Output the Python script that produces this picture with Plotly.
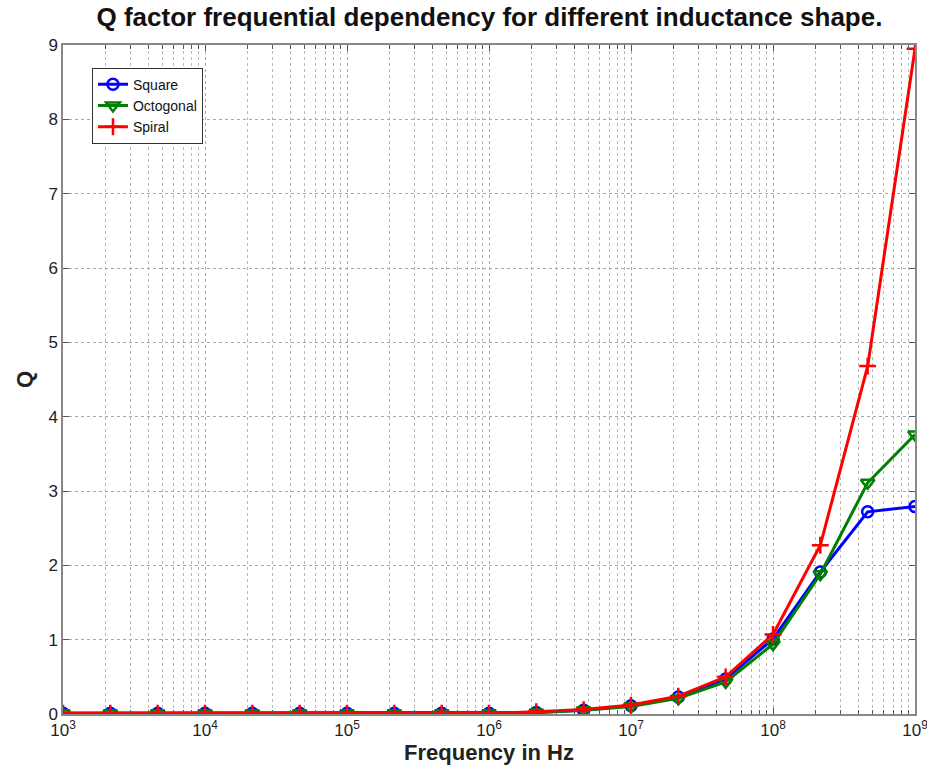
import plotly.graph_objects as go

freq = [1e3, 2.154e3, 4.642e3, 1e4, 2.154e4, 4.642e4, 1e5, 2.154e5, 4.642e5,
        1e6, 2.154e6, 4.642e6, 1e7, 2.154e7, 4.642e7, 1e8, 2.154e8, 4.642e8, 1e9]
q_square = [0.01, 0.01, 0.01, 0.01, 0.01, 0.01, 0.01, 0.01, 0.01,
            0.01, 0.02, 0.05, 0.11, 0.23, 0.47, 1.01, 1.91, 2.72, 2.79]
q_octo = [0.01, 0.01, 0.01, 0.01, 0.01, 0.01, 0.01, 0.01, 0.01,
          0.01, 0.02, 0.05, 0.10, 0.21, 0.43, 0.94, 1.88, 3.11, 3.76]
q_spiral = [0.01, 0.01, 0.01, 0.01, 0.01, 0.01, 0.01, 0.01, 0.01,
            0.01, 0.03, 0.06, 0.12, 0.24, 0.50, 1.07, 2.27, 4.68, 8.95]
x_tickvals = [1e3, 1e4, 1e5, 1e6, 1e7, 1e8, 1e9]
x_ticktext = ["10<sup>3</sup>", "10<sup>4</sup>", "10<sup>5</sup>", "10<sup>6</sup>",
              "10<sup>7</sup>", "10<sup>8</sup>", "10<sup>9</sup>"]

fig = go.Figure()
fig.add_trace(go.Scatter(x=freq, y=q_square, name="Square", mode="lines+markers",
                         line=dict(color="#0000ff", width=3),
                         marker=dict(symbol="circle-open", size=11, color="#0000ff",
                                     line=dict(width=2.5, color="#0000ff"))))
fig.add_trace(go.Scatter(x=freq, y=q_octo, name="Octogonal", mode="lines+markers",
                         line=dict(color="#008000", width=3),
                         marker=dict(symbol="triangle-down-open", size=12, color="#008000",
                                     line=dict(width=2.5, color="#008000"))))
fig.add_trace(go.Scatter(x=freq, y=q_spiral, name="Spiral", mode="lines+markers",
                         line=dict(color="#ff0000", width=3),
                         marker=dict(symbol="cross-thin", size=12, color="#ff0000",
                                     line=dict(width=2.5, color="#ff0000"))))

grid = dict(showgrid=True, gridcolor="#a8a8a8", griddash="dot", gridwidth=1)
fig.update_xaxes(type="log", range=[3, 9], tickvals=x_tickvals, ticktext=x_ticktext,
                 ticks="inside", ticklen=6, tickcolor="#555", showline=True, mirror="ticks",
                 linecolor="#888", linewidth=1.5, zeroline=False, automargin=False,
                 ticklabeloverflow="allow",
                 minor=dict(dtick="D1", ticks="inside", ticklen=4, tickcolor="#555", showgrid=True,
                            gridcolor="#b8b8b8", griddash="dot", gridwidth=1),
                 tickfont=dict(family="Arial", size=17, color="#222"),
                 title=dict(text="<b>Frequency in Hz</b>", font=dict(family="Arial", size=22, color="#222"),
                            standoff=4),
                 **grid)
fig.update_yaxes(range=[0, 9], dtick=1, ticks="inside", ticklen=6, tickcolor="#555",
                 showline=True, mirror="ticks", linecolor="#888", linewidth=1.5, zeroline=False,
                 automargin=False, ticklabeloverflow="allow",
                 tickfont=dict(family="Arial", size=17, color="#222"),
                 title=dict(text="<b>Q</b>", font=dict(family="Arial", size=22, color="#222"),
                            standoff=10),
                 **grid)
fig.update_layout(
    width=927, height=776,
    margin=dict(l=63, r=12, t=45, b=62),
    paper_bgcolor="white", plot_bgcolor="white",
    title=dict(text="<b>Q factor frequential dependency for different inductance shape.</b>",
               x=0.528, xanchor="center", y=0.978, yanchor="middle",
               font=dict(family="Arial", size=26, color="#111")),
    legend=dict(x=0.034, y=0.966, xanchor="left", yanchor="top",
                bgcolor="white", bordercolor="#333", borderwidth=1,
                font=dict(family="Arial", size=14, color="#111"),
                itemwidth=30, tracegroupgap=0),
    showlegend=True,
)
fig.write_html("out.html")
